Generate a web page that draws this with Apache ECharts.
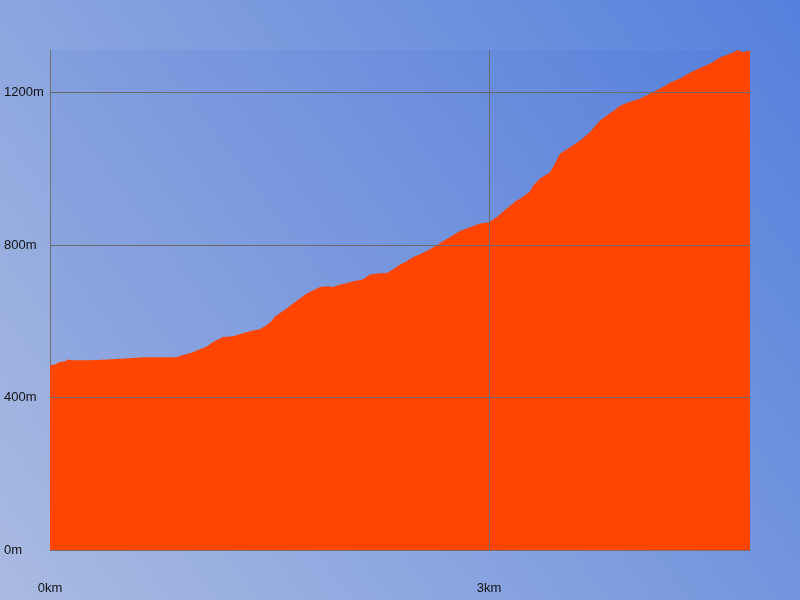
<!DOCTYPE html>
<html>
<head>
<meta charset="utf-8">
<script src="https://cdn.jsdelivr.net/npm/echarts@6/dist/echarts.min.js"></script>
<style>html,body{margin:0;padding:0;}#c{width:800px;height:600px;}</style>
</head>
<body>
<div id="c"></div>
<script>
// distance along route (km)
var distanceKm = [0, 0.007, 0.034, 0.068, 0.103, 0.123, 0.150, 0.273, 0.396, 0.547, 0.636, 0.868, 0.888, 0.936, 0.977, 1.025, 1.073, 1.114, 1.182, 1.251, 1.319, 1.387, 1.435, 1.469, 1.515, 1.538, 1.572, 1.618, 1.661, 1.708, 1.754, 1.797, 1.845, 1.891, 1.934, 1.982, 2.028, 2.071, 2.139, 2.187, 2.255, 2.301, 2.344, 2.392, 2.438, 2.481, 2.529, 2.597, 2.665, 2.734, 2.802, 2.870, 2.939, 3.0, 3.053, 3.121, 3.189, 3.212, 3.280, 3.301, 3.349, 3.417, 3.437, 3.485, 3.554, 3.622, 3.690, 3.759, 3.861, 3.895, 3.964, 4.032, 4.100, 4.168, 4.237, 4.305, 4.374, 4.442, 4.510, 4.579, 4.647, 4.681, 4.702, 4.736, 4.770, 4.784];
// elevation (m)
var elevationM = [485, 490, 487, 493, 495, 500, 498, 498, 500, 503, 506, 506, 509, 514, 519, 527, 534, 546, 559, 561, 569, 576, 579, 587, 601, 613, 622, 634, 647, 660, 673, 681, 690, 692, 690, 697, 700, 705, 710, 723, 726, 727, 736, 749, 758, 768, 776, 789, 805, 821, 837, 847, 857, 860, 873, 896, 917, 922, 941, 956, 975, 991, 1004, 1040, 1057, 1074, 1096, 1127, 1155, 1166, 1176, 1184, 1197, 1210, 1226, 1237, 1252, 1265, 1276, 1292, 1302, 1308, 1312, 1306, 1310, 1310];
// tick labels
var yTicks = [0, 400, 800, 1200];
var xTicks = [0, 3];
var xMax = 4.784, yMax = 1312;

var points = distanceKm.map(function (d, i) { return [d, elevationM[i]]; });
var markData = yTicks.filter(function (v) { return v > 0; }).map(function (v) { return { yAxis: v }; })
  .concat(xTicks.filter(function (v) { return v > 0; }).map(function (v) { return { xAxis: v }; }));

var labelFont = 'Liberation Sans, Arial, sans-serif';
var chart = echarts.init(document.getElementById('c'));
chart.setOption({
  animation: false,
  backgroundColor: new echarts.graphic.LinearGradient(0, 1, 1, 0, [
    { offset: 0, color: '#aabbe1' },
    { offset: 1, color: '#5580dc' }
  ]),
  grid: { left: 50, right: 50, top: 50, bottom: 50, show: true, backgroundColor: 'rgba(60,100,220,0.10)', borderWidth: 0 },
  xAxis: {
    type: 'value', min: 0, max: xMax, interval: 3,
    splitLine: { show: false },
    axisTick: { show: false },
    axisLine: { show: true, lineStyle: { color: '#707070', width: 1 } },
    axisLabel: { customValues: xTicks, formatter: function (v) { return v + 'km'; }, color: '#111', fontFamily: labelFont, fontSize: 13, margin: 32 }
  },
  yAxis: {
    type: 'value', min: 0, max: yMax, interval: 400,
    splitLine: { show: false },
    axisTick: { show: false },
    axisLine: { show: true, lineStyle: { color: '#707070', width: 1 } },
    axisLabel: { customValues: yTicks, formatter: function (v) { return v + 'm'; }, align: 'left', margin: 46, color: '#111', fontFamily: labelFont, fontSize: 13 }
  },
  series: [{
    type: 'line',
    data: points,
    showSymbol: false,
    symbol: 'none',
    lineStyle: { width: 0, color: '#ff4500' },
    areaStyle: { color: '#ff4500', opacity: 1 },
    markLine: {
      silent: true,
      symbol: ['none', 'none'],
      label: { show: false },
      lineStyle: { color: '#6a6a6a', width: 1, type: 'solid' },
      data: markData
    }
  }]
});
</script>
</body>
</html>
